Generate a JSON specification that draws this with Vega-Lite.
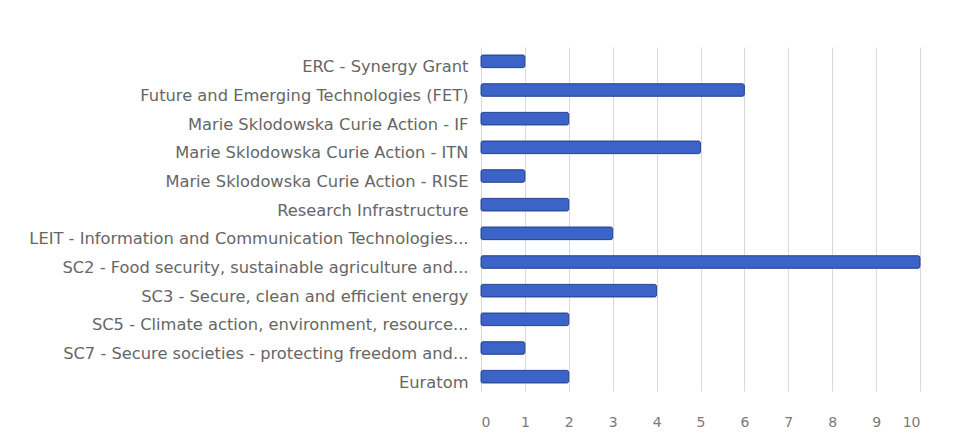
{
  "$schema": "https://vega.github.io/schema/vega-lite/v6.json",
  "autosize": "none",
  "width": 439,
  "height": 344,
  "padding": {"left": 481, "top": 47, "right": 34, "bottom": 52},
  "background": "white",
  "config": {"view": {"stroke": null}},
  "data": {"values": [
    {"programme": "ERC - Synergy Grant", "count": 1},
    {"programme": "Future and Emerging Technologies (FET)", "count": 6},
    {"programme": "Marie Sklodowska Curie Action - IF", "count": 2},
    {"programme": "Marie Sklodowska Curie Action - ITN", "count": 5},
    {"programme": "Marie Sklodowska Curie Action - RISE", "count": 1},
    {"programme": "Research Infrastructure", "count": 2},
    {"programme": "LEIT - Information and Communication Technologies...", "count": 3},
    {"programme": "SC2 - Food security, sustainable agriculture and...", "count": 10},
    {"programme": "SC3 - Secure, clean and efficient energy", "count": 4},
    {"programme": "SC5 - Climate action, environment, resource...", "count": 2},
    {"programme": "SC7 - Secure societies - protecting freedom and...", "count": 1},
    {"programme": "Euratom", "count": 2}
  ]},
  "mark": {"type": "bar", "color": "#3b63c8", "stroke": "#2a4896", "strokeWidth": 1, "cornerRadius": 2},
  "encoding": {
    "y": {
      "field": "programme", "type": "nominal", "sort": null, "title": null,
      "scale": {"paddingInner": 0.56, "paddingOuter": 0.28},
      "axis": {"ticks": false, "domain": false, "labelFont": "DejaVu Sans", "labelFontSize": 16.3, "labelColor": "#666666", "labelPadding": 13, "labelOffset": 6, "labelLimit": 480}
    },
    "x": {
      "field": "count", "type": "quantitative", "title": null,
      "scale": {"domain": [0, 10], "nice": false},
      "axis": {"values": [0,1,2,3,4,5,6,7,8,9,10], "ticks": false, "domain": false, "grid": true, "gridColor": "#d9d9d9", "labelFont": "DejaVu Sans", "labelFontSize": 14, "labelColor": "#7a7a7a", "labelPadding": 24}
    }
  }
}
